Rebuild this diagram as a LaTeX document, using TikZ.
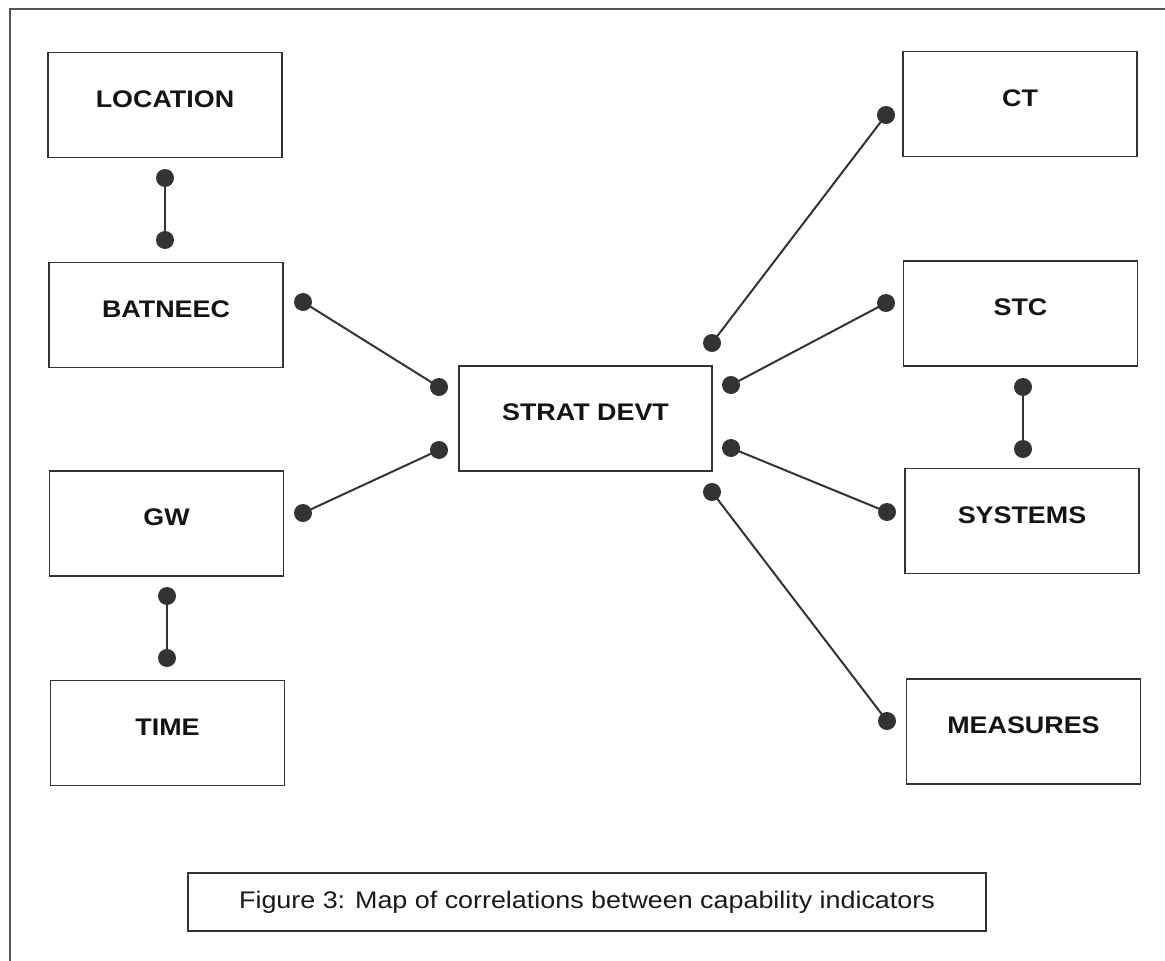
\documentclass[tikz,border=0pt]{standalone}
\usepackage{fontspec}
\setmainfont{Liberation Sans}[FakeStretch=1.12]
\definecolor{ink}{HTML}{333333}
\definecolor{frame}{HTML}{555555}
\begin{document}
\begin{tikzpicture}[x=1pt,y=-1pt,
  box/.style={draw=ink,line width=1.4pt,minimum width=234pt,minimum height=105pt,inner sep=0pt,
    font=\fontsize{24}{28}\selectfont\bfseries,text=black!92,text height=17pt,text depth=13pt},
  centbox/.style={box,minimum width=253pt},
  capbox/.style={draw=ink,line width=1.4pt,minimum width=798pt,minimum height=58pt,inner sep=0pt,
    font=\fontsize{24}{28}\selectfont,text=black!90,text height=17pt,text depth=4pt},
  dot/.style={circle,fill=ink,draw=none,minimum size=18pt,inner sep=0pt},
  link/.style={draw=ink,line width=2pt}]
\useasboundingbox (0,0) rectangle (1165,961);
\draw[frame,line width=1.5pt] (10,961) -- (10,9) -- (1165,9);
% boxes
\node[box] (loc) at (165,105) {LOCATION};
\node[box] (bat) at (166,315) {BATNEEC};
\node[box] (gw) at (166.5,523.5) {GW};
\node[box] (time) at (167.5,733) {TIME};
\node[box] (ct) at (1020,104) {CT};
\node[box] (stc) at (1020.5,313.5) {STC};
\node[box] (sys) at (1022,521) {SYSTEMS};
\node[box] (meas) at (1023.5,731.5) {MEASURES};
\node[centbox] (sd) at (585.5,418.5) {STRAT DEVT};
\node[capbox] (cap) at (587,902) {Figure 3: Map of correlations between capability indicators};
% dots
\node[dot] (a1) at (165,178) {};
\node[dot] (a2) at (165,240) {};
\node[dot] (b1) at (167,596) {};
\node[dot] (b2) at (167,658) {};
\node[dot] (c1) at (1023,387) {};
\node[dot] (c2) at (1023,449) {};
\node[dot] (d1) at (303,302) {};
\node[dot] (d2) at (439,387) {};
\node[dot] (e1) at (303,513) {};
\node[dot] (e2) at (439,450) {};
\node[dot] (f1) at (712,343) {};
\node[dot] (f2) at (886,115) {};
\node[dot] (g1) at (731,385) {};
\node[dot] (g2) at (886,303) {};
\node[dot] (h1) at (731,448) {};
\node[dot] (h2) at (887,512) {};
\node[dot] (i1) at (712,492) {};
\node[dot] (i2) at (887,721) {};
% connectors
\draw[link] (a1.center) -- (a2.center);
\draw[link] (b1.center) -- (b2.center);
\draw[link] (c1.center) -- (c2.center);
\draw[link] (d1.center) -- (d2.center);
\draw[link] (e1.center) -- (e2.center);
\draw[link] (f1.center) -- (f2.center);
\draw[link] (g1.center) -- (g2.center);
\draw[link] (h1.center) -- (h2.center);
\draw[link] (i1.center) -- (i2.center);
\end{tikzpicture}
\end{document}
